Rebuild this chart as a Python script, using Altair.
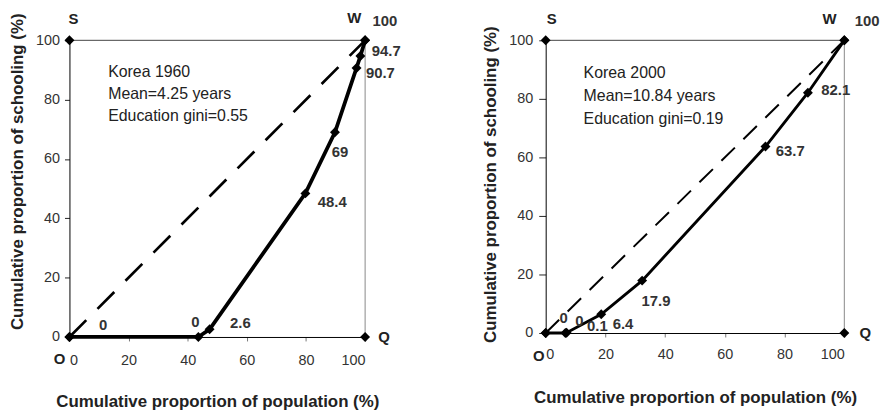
import altair as alt
import pandas as pd

# Educational Lorenz curves, Korea 1960 and 2000
POP_1960 = [0, 43.6, 47.4, 79.8, 89.8, 97.1, 98.4, 100]
SCH_1960 = [0, 0, 2.6, 48.4, 69, 90.7, 94.7, 100]
LBL_1960 = ["0", "0", "2.6", "48.4", "69", "90.7", "94.7", "100"]

POP_2000 = [0, 6.6, 7.0, 18.6, 32.3, 73.6, 87.8, 100]
SCH_2000 = [0, 0, 0.1, 6.4, 17.9, 63.7, 82.1, 100]
LBL_2000 = ["0", "0", "0.1", "6.4", "17.9", "63.7", "82.1", "100"]

CORNER_NAMES = ["O", "S", "W", "Q"]
CORNER_POP = [0, 0, 100, 100]
CORNER_SCH = [0, 100, 100, 0]

TICKS = [0, 20, 40, 60, 80, 100]

NOTE_1960 = ["Korea 1960", "Mean=4.25 years", "Education gini=0.55"]
NOTE_2000 = ["Korea 2000", "Mean=10.84 years", "Education gini=0.19"]

X_TITLE = "Cumulative proportion of population (%)"
Y_TITLE = "Cumulative proportion of schooling (%)"

FONT = "Liberation Sans"

# pixel nudges for the value labels and the corner letters (O, S, W, Q)
OFF_1960 = [(34, -12), (-3, -15), (31, -6), (27, 9), (5, 20), (24, 5), (26, -5), (20, -19)]
OFF_2000 = [(18, -15), (14, -12), (31, -7), (22, 10), (14, 21), (25, 5), (28, -3), (23, -19)]
CORNER_OFF_1960 = [(-10, 22), (4, -21), (-11, -22), (19, 0)]
CORNER_OFF_2000 = [(-7, 23), (6, -21), (-15, -21), (21, 0)]


def panel(pop, sch, labels, offsets, corner_off, note, note_at, st):
    w, h = st["w"], st["h"]
    xs = alt.Scale(domain=[0, 100], nice=False, zero=False)
    ys = alt.Scale(domain=[0, 100], nice=False, zero=False)
    x_axis = alt.Axis(
        values=TICKS, grid=False, domainColor="black", domainWidth=1,
        tickColor="#777", tickSize=4, labelPadding=st["xpad"],
        labelFont=FONT, labelFontSize=14.5, labelColor="#333",
        title=X_TITLE, titleFont=FONT, titleFontSize=17, titleFontWeight="bold",
        titleColor="#222", titleX=w / 2, titleY=st["xty"],
        titleBaseline="middle", titleAlign="center",
    )
    y_axis = alt.Axis(
        values=TICKS, grid=False, domainColor="black", domainWidth=1,
        tickColor="#222", tickSize=st["ytick"], labelPadding=st["ypad"],
        labelFont=FONT, labelFontSize=14.5, labelColor="#333",
        title=Y_TITLE, titleFont=FONT, titleFontSize=17, titleFontWeight="bold",
        titleColor="#222", titleX=st["ytx"], titleY=st["yty"], titleAngle=270,
        titleBaseline="middle", titleAlign="center",
    )

    def enc(**kw):
        return dict(
            x=alt.X("pop:Q", scale=xs, axis=x_axis),
            y=alt.Y("sch:Q", scale=ys, axis=y_axis),
            **kw,
        )

    df = pd.DataFrame({"pop": pop, "sch": sch, "label": labels, "i": list(range(len(pop)))})
    corners = pd.DataFrame({"pop": CORNER_POP, "sch": CORNER_SCH, "name": CORNER_NAMES,
                            "i": list(range(4))})

    top_edge = alt.Chart(corners).transform_filter("datum.name == 'S' || datum.name == 'W'") \
        .mark_line(color="#444", strokeWidth=1).encode(**enc(order="i:O"))
    right_edge = alt.Chart(corners).transform_filter("datum.name == 'W' || datum.name == 'Q'") \
        .mark_line(color="#888", strokeWidth=1).encode(**enc(order="i:O"))
    diagonal = alt.Chart(corners).transform_filter("datum.name == 'O' || datum.name == 'W'") \
        .mark_line(color="black", strokeWidth=st["dw"], strokeDash=st["dash"]).encode(**enc(order="i:O"))
    curve = alt.Chart(df).mark_line(color="black", strokeWidth=st["lw"]).encode(**enc(order="i:O"))
    curve_pts = alt.Chart(df).mark_point(shape="diamond", filled=True, color="black",
                                         opacity=1, size=100).encode(**enc())
    corner_pts = alt.Chart(corners).mark_point(shape="diamond", filled=True, color="black",
                                               opacity=1, size=100).encode(**enc())

    layers = [top_edge, right_edge, diagonal, curve, curve_pts, corner_pts]

    for k, (dx, dy) in enumerate(offsets):
        layers.append(
            alt.Chart(df).transform_filter(alt.datum.i == k)
            .mark_text(font=FONT, fontSize=15, fontWeight="bold", color="#333",
                       align="center", baseline="middle", dx=dx, dy=dy)
            .encode(**enc(text="label:N"))
        )
    for k, (dx, dy) in enumerate(corner_off):
        layers.append(
            alt.Chart(corners).transform_filter(alt.datum.i == k)
            .mark_text(font=FONT, fontSize=15, fontWeight="bold", color="#222",
                       align="center", baseline="middle", dx=dx, dy=dy)
            .encode(**enc(text="name:N"))
        )

    note_df = pd.DataFrame({"pop": [note_at[0]], "sch": [note_at[1]]})
    layers.append(
        alt.Chart(note_df).mark_text(text=note, font=FONT, fontSize=16, color="#222",
                                     align="left", baseline="middle",
                                     lineHeight=st["lh"])
        .encode(**enc())
    )
    return alt.layer(*layers).properties(width=w, height=h)


left = panel(POP_1960, SCH_1960, LBL_1960, OFF_1960, CORNER_OFF_1960, NOTE_1960, (13.1, 89.3),
             dict(w=298, h=299, xpad=13, xty=65, ytick=5, ypad=5, ytx=-52, yty=132,
                  lw=3.8, dw=2.7, dash=[24, 16], lh=22))
right = panel(POP_2000, SCH_2000, LBL_2000, OFF_2000, CORNER_OFF_2000, NOTE_2000, (12.7, 88.9),
              dict(w=301, h=295, xpad=11, xty=65, ytick=7, ypad=6, ytx=-56, yty=145,
                   lw=2.9, dw=2, dash=[19, 12], lh=23.3))

chart = alt.hconcat(left, right, spacing=80).properties(
    padding={"left": 8, "top": 10, "right": 5, "bottom": 5}
).configure_view(stroke=None)

chart.save("out.html", embed_options={"renderer": "svg", "actions": False})
